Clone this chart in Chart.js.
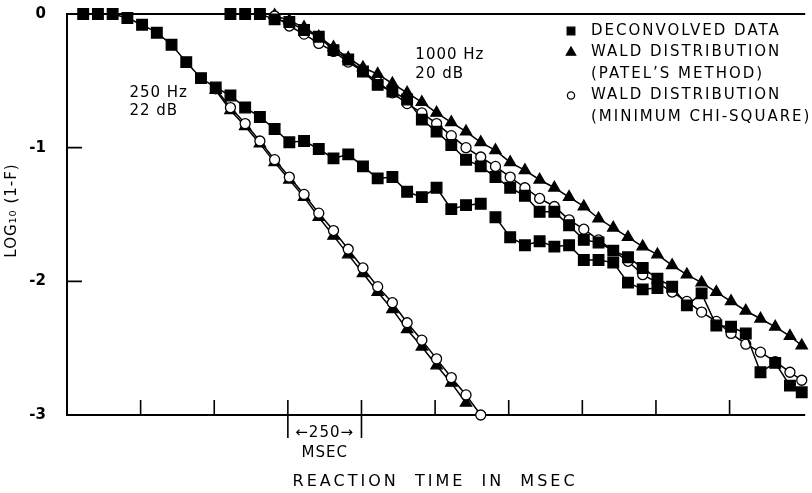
<!DOCTYPE html>
<html>
<head>
<meta charset="utf-8">
<script src="https://cdn.jsdelivr.net/npm/chart.js@4.4.1/dist/chart.umd.min.js"></script>
<style>
  html, body { margin: 0; padding: 0; background: #fff; }
  #wrap { width: 812px; height: 493px; position: relative; }
</style>
</head>
<body>
<div id="wrap"><canvas id="rt-chart"></canvas></div>
<script>
// reaction time in msec vs log10(1-F)

// 250 Hz, 22 dB
const hz250DataX = [55, 105, 155, 205, 255, 305, 355, 405, 455, 505, 555, 605, 655, 705, 755, 805, 855, 905, 955, 1005,
  1055, 1105, 1155, 1205, 1255, 1305, 1355, 1405, 1430, 1455, 1505, 1555, 1605, 1655, 1705, 1755, 1805, 1855, 1905, 1955, 2005];
const hz250DataY = [0, 0, 0, -0.03, -0.08, -0.14, -0.23, -0.36, -0.48, -0.55, -0.61, -0.70, -0.77, -0.86, -0.96, -0.95, -1.01, -1.08, -1.05, -1.14,
  -1.23, -1.22, -1.33, -1.37, -1.30, -1.46, -1.43, -1.42, null, -1.52, -1.67, -1.73, -1.70, -1.74, -1.73, -1.84, -1.84, -1.86, -2.01, -2.06, -2.05];

const hz250PatelX = [505, 555, 605, 655, 705, 755, 805, 855, 905, 955, 1005, 1055, 1105, 1155, 1205, 1255, 1305, 1355];
const hz250PatelY = [-0.57, -0.72, -0.84, -0.97, -1.11, -1.24, -1.37, -1.52, -1.66, -1.80, -1.94, -2.08, -2.21, -2.36, -2.49, -2.63, -2.76, -2.91];

const hz250ChiX = [505, 555, 605, 655, 705, 755, 805, 855, 905, 955, 1005, 1055, 1105, 1155, 1205, 1255, 1305, 1355, 1405];
const hz250ChiY = [-0.56, -0.70, -0.82, -0.95, -1.09, -1.22, -1.35, -1.49, -1.62, -1.76, -1.90, -2.04, -2.16, -2.31, -2.44, -2.58, -2.72, -2.85, -3.0];

// 1000 Hz, 20 dB
const hz1000DataX = [555, 605, 655, 705, 755, 805, 855, 905, 955, 1005, 1055, 1105, 1155, 1205, 1255, 1305, 1355, 1405, 1455, 1505,
  1555, 1605, 1655, 1705, 1755, 1805, 1855, 1905, 1955, 2005, 2055, 2105, 2155, 2205, 2255, 2305, 2355, 2405, 2455, 2495];
const hz1000DataY = [0, 0, 0, -0.04, -0.06, -0.12, -0.17, -0.27, -0.34, -0.43, -0.53, -0.58, -0.64, -0.79, -0.88, -0.98, -1.09, -1.14, -1.22, -1.30,
  -1.36, -1.48, -1.48, -1.58, -1.69, -1.71, -1.77, -1.82, -1.90, -1.98, -2.04, -2.18, -2.09, -2.33, -2.34, -2.39, -2.68, -2.61, -2.78, -2.83];

const hz1000FitX = [705, 755, 805, 855, 905, 955, 1005, 1055, 1105, 1155, 1205, 1255, 1305, 1355, 1405, 1455, 1505, 1555, 1605, 1655,
  1705, 1755, 1805, 1855, 1905, 1955, 2005, 2055, 2105, 2155, 2205, 2255, 2305, 2355, 2405, 2455, 2495];
const hz1000PatelY = [-0.01, -0.05, -0.10, -0.17, -0.25, -0.33, -0.40, -0.45, -0.52, -0.59, -0.66, -0.74, -0.81, -0.88, -0.96, -1.02, -1.11, -1.17, -1.24, -1.30,
  -1.37, -1.44, -1.53, -1.60, -1.67, -1.74, -1.80, -1.88, -1.95, -2.01, -2.08, -2.15, -2.22, -2.28, -2.34, -2.41, -2.48];
const hz1000ChiY = [-0.015, -0.09, -0.15, -0.22, -0.28, -0.36, -0.43, -0.51, -0.59, -0.67, -0.74, -0.82, -0.91, -1.00, -1.07, -1.14, -1.22, -1.30, -1.38, -1.44,
  -1.54, -1.61, -1.69, -1.77, -1.85, -1.95, -2.01, -2.08, -2.15, -2.23, -2.30, -2.39, -2.47, -2.53, -2.60, -2.68, -2.74];

// axes
const xTicks = [250, 500, 750, 1000, 1250, 1500, 1750, 2000, 2250];
const yTicks = [0, -1, -2, -3];
const scaleBar = [750, 1000];
const scaleBarText = ['\u2190250\u2192', 'MSEC'];

const legendItems = [
  { style: 'rect', fill: '#000', lines: ['DECONVOLVED DATA'] },
  { style: 'triangle', fill: '#000', lines: ['WALD DISTRIBUTION', '(PATEL\u2019S METHOD)'] },
  { style: 'circle', fill: '#fff', lines: ['WALD DISTRIBUTION', '(MINIMUM CHI-SQUARE)'] }
];
const curveLabels = [
  { x: 212, y: -0.59, lines: ['250 Hz', '22 dB'] },
  { x: 1183, y: -0.31, lines: ['1000 Hz', '20 dB'] }
];

const FONT = "'DejaVu Sans', sans-serif";

function pts(xs, ys) {
  return xs.map((x, i) => ({ x, y: ys[i] }));
}

function series(xs, ys, style, fill, radius) {
  return {
    data: pts(xs, ys),
    showLine: true,
    spanGaps: false,
    clip: false,
    borderColor: '#000',
    borderWidth: 1.5,
    pointStyle: style,
    pointRadius: radius,
    pointHoverRadius: radius,
    pointBackgroundColor: fill,
    pointBorderColor: '#000',
    pointBorderWidth: 1.3
  };
}

const overlay = {
  id: 'overlay',
  beforeDatasetsDraw(chart) {
    const { ctx, chartArea: a, scales: { x, y } } = chart;
    ctx.save();
    ctx.strokeStyle = '#000';
    ctx.lineWidth = 2;
    ctx.beginPath();
    ctx.moveTo(a.right + 2, a.top);
    ctx.lineTo(a.left, a.top);
    ctx.lineTo(a.left, a.bottom);
    ctx.lineTo(a.right + 2, a.bottom);
    ctx.stroke();

    // inward tick marks
    ctx.lineWidth = 1.6;
    ctx.beginPath();
    xTicks.forEach(v => {
      const px = x.getPixelForValue(v);
      const below = scaleBar.includes(v) ? 23 : 0;
      ctx.moveTo(px, a.bottom - 15);
      ctx.lineTo(px, a.bottom + below);
    });
    yTicks.filter(v => v < 0 && v > -3).forEach(v => {
      const py = y.getPixelForValue(v);
      ctx.moveTo(a.left, py);
      ctx.lineTo(a.left + 15, py);
    });
    ctx.stroke();
    ctx.restore();
  },
  afterDatasetsDraw(chart) {
    const { ctx, chartArea: a, scales: { x, y } } = chart;
    ctx.save();
    ctx.fillStyle = '#000';
    ctx.textBaseline = 'middle';

    // 250 msec scale bar
    ctx.font = `15px ${FONT}`;
    ctx.textAlign = 'center';
    ctx.letterSpacing = '1px';
    const mid = (x.getPixelForValue(scaleBar[0]) + x.getPixelForValue(scaleBar[1])) / 2;
    ctx.fillText(scaleBarText[0], mid, a.bottom + 18);
    ctx.fillText(scaleBarText[1], mid, a.bottom + 38);

    // x title
    ctx.font = `16px ${FONT}`;
    ctx.letterSpacing = '3px';
    ctx.fillText('REACTION  TIME  IN  MSEC', (a.left + a.right) / 2, a.bottom + 67);

    // y title
    ctx.save();
    ctx.translate(12, (a.top + a.bottom) / 2 - 4);
    ctx.rotate(-Math.PI / 2);
    ctx.font = `15px ${FONT}`;
    ctx.letterSpacing = '1px';
    ctx.fillText('LOG\u2081\u2080 (1-F)', 0, 0);
    ctx.restore();

    // curve labels
    ctx.textAlign = 'left';
    ctx.font = `15px ${FONT}`;
    ctx.letterSpacing = '1px';
    curveLabels.forEach(l => {
      const px = x.getPixelForValue(l.x);
      const py = y.getPixelForValue(l.y);
      l.lines.forEach((t, i) => ctx.fillText(t, px, py + i * 18.5));
    });

    // legend
    ctx.font = `15px ${FONT}`;
    ctx.letterSpacing = '2px';
    let row = a.top + 17;
    legendItems.forEach(item => {
      ctx.save();
      ctx.fillStyle = item.fill;
      ctx.strokeStyle = '#000';
      ctx.lineWidth = 1.3;
      const r = item.style === 'circle' ? 3.6 : 5.4;
      Chart.helpers.drawPoint(ctx, { pointStyle: item.style, radius: r, rotation: 0, borderWidth: 1.3 }, 571, row);
      ctx.restore();
      item.lines.forEach(t => {
        ctx.fillText(t, 591, row);
        row += 21.5;
      });
    });
    ctx.restore();
  }
};

new Chart(document.getElementById('rt-chart'), {
  type: 'scatter',
  data: {
    datasets: [
      series(hz250DataX, hz250DataY, 'rect', '#000', 7.5),
      series(hz1000DataX, hz1000DataY, 'rect', '#000', 7.5),
      series(hz250ChiX, hz250ChiY, 'circle', '#fff', 5),
      series(hz1000FitX, hz1000ChiY, 'circle', '#fff', 5),
      series(hz250PatelX, hz250PatelY, 'triangle', '#000', 6.5),
      series(hz1000FitX, hz1000PatelY, 'triangle', '#000', 6.5)
    ]
  },
  options: {
    responsive: true,
    maintainAspectRatio: false,
    animation: false,
    layout: { padding: { top: 14, right: 0, left: 0, bottom: 0 } },
    plugins: { legend: { display: false }, tooltip: { enabled: false } },
    scales: {
      x: {
        type: 'linear', min: 0, max: 2500,
        afterFit: s => { s.height = 78; },
        ticks: { display: false },
        grid: { display: false, drawTicks: false },
        border: { display: false }
      },
      y: {
        min: -3, max: 0,
        afterFit: s => { s.width = 67; s.paddingTop = 0; s.paddingBottom = 0; },
        afterBuildTicks: s => { s.ticks = yTicks.map(v => ({ value: v })); },
        ticks: {
          color: '#000', padding: 21,
          font: { family: FONT, size: 15, weight: 'bold' },
          callback: v => String(v)
        },
        grid: { display: false, drawTicks: false },
        border: { display: false }
      }
    }
  },
  plugins: [overlay]
});
</script>
</body>
</html>
